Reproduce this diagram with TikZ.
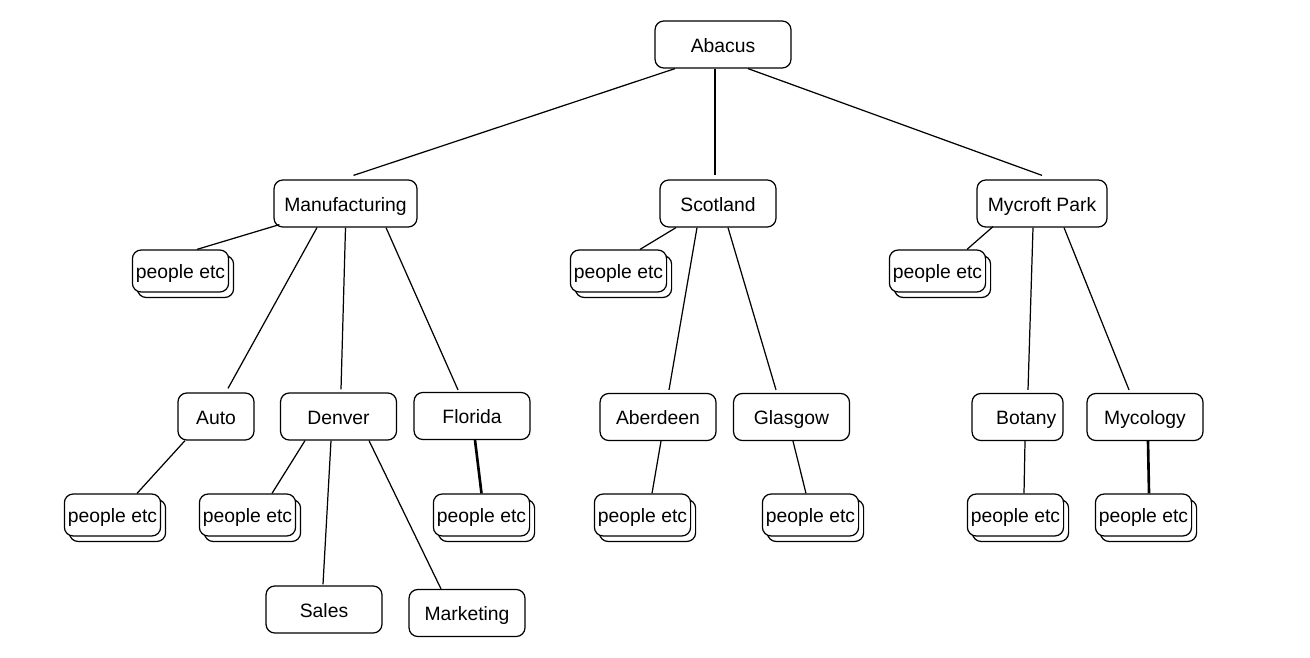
\documentclass[tikz,border=0pt]{standalone}
\usepackage{fontspec}
\setmainfont{Liberation Sans}
\usetikzlibrary{calc,shadows}
\tikzset{
  unit/.style={draw,line width=.7pt,rounded corners=5pt,fill=white,minimum width=2.32cm,minimum height=.94cm,inner xsep=2pt,text height=9pt,text depth=0pt,font=\fontsize{11}{13}\selectfont},
  ppl/.style ={unit,minimum width=1.9cm,minimum height=.84cm,copy shadow={shadow xshift=.1cm,shadow yshift=-.11cm,draw,fill=white}},
  ln/.style  ={line width=.7pt},
  lnb/.style ={line width=1.5pt},
}

\begin{document}
\begin{tikzpicture}[x=.02cm,y=.02cm]
\useasboundingbox (0,0) rectangle (1310,-658);
% top
\node[unit,minimum width=2.72cm] (abacus) at (723,-44.5) {Abacus};
% divisions
\node[unit,minimum width=2.86cm] (manuf) at (345.5,-203.5) {Manufacturing};
\node[unit] (scot) at (718,-203.5) {Scotland};
\node[unit,minimum width=2.6cm] (mycroft) at (1042,-203.5) {Mycroft Park};
\node[ppl] (pmanuf) at (180.5,-271) {people etc};
\node[ppl] (pscot) at (618.5,-271) {people etc};
\node[ppl] (pmycroft) at (937.5,-271) {people etc};
% sites
\node[unit,minimum width=1.52cm] (auto) at (216,-416.5) {Auto};
\node[unit] (denver) at (338.5,-416.5) {Denver};
\node[unit] (florida) at (472,-416) {Florida};
\node[unit] (aber) at (658,-417) {Aberdeen};
\node[unit] (glas) at (791.5,-417) {Glasgow};
\node[unit,minimum width=1.82cm] (botany) at (1017.5,-417) {\hspace*{10pt}Botany};
\node[unit] (mycol) at (1145,-417) {Mycology};
\node[ppl] (pauto) at (112.5,-515) {people etc};
\node[ppl] (pdenver) at (247.5,-515) {people etc};
\node[ppl] (pflorida) at (481.5,-515) {people etc};
\node[ppl] (paber) at (642.5,-515) {people etc};
\node[ppl] (pglas) at (810.5,-515) {people etc};
\node[ppl] (pbotany) at (1015.5,-515) {people etc};
\node[ppl] (pmycol) at (1143.5,-515) {people etc};
% denver teams
\node[unit] (sales) at (324,-609.5) {Sales};
\node[unit] (mkt) at (467,-613) {Marketing};
% links from top
\draw[ln] ($(abacus.south)+(-48,0)$) -- ($(manuf.north)+(8,4)$);
\draw[ln] ($(abacus.south)+(-8,0)$) -- ($(scot.north)+(-3,4)$);
\draw[ln] ($(abacus.south)+(25,0)$) -- ($(mycroft.north)+(0,4)$);
% links from divisions
\draw[ln] ($(manuf.south west)+(6,3)$) -- ($(pmanuf.north)+(16.5,0)$);
\draw[ln] ($(manuf.south)+(-28.5,0)$) -- ($(auto.north)+(12,4)$);
\draw[ln] (manuf.south) -- ($(denver.north)+(2.5,3)$);
\draw[ln] ($(manuf.south)+(40.5,0)$) -- ($(florida.north)+(-14,2)$);
\draw[ln] ($(scot.south)+(-42,0)$) -- ($(pscot.north)+(21.5,0)$);
\draw[ln] ($(scot.south)+(-21,0)$) -- ($(aber.north)+(11,3)$);
\draw[ln] ($(scot.south)+(10,0)$) -- ($(glas.north)+(-15.5,3)$);
\draw[ln] ($(mycroft.south)+(-49,1)$) -- ($(pmycroft.north)+(29.5,0)$);
\draw[ln] ($(mycroft.south)+(-9,0)$) -- ($(botany.north)+(10.5,3)$);
\draw[ln] ($(mycroft.south)+(22,0)$) -- ($(mycol.north)+(-16,3)$);
% links from sites
\draw[ln] ($(auto.south)+(-31,0)$) -- ($(pauto.north)+(24.5,0)$);
\draw[ln] ($(denver.south)+(-33.5,0)$) -- ($(pdenver.north)+(24.5,0)$);
\draw[ln] ($(denver.south)+(-7.5,0)$) -- ($(sales.north)+(-1,1)$);
\draw[ln] ($(denver.south)+(30.5,0)$) -- ($(mkt.north)+(-26,0)$);
\draw[lnb] ($(florida.south)+(3,0)$) -- (pflorida.north);
\draw[ln] ($(aber.south)+(3,0)$) -- ($(paber.north)+(9.5,0)$);
\draw[ln] ($(glas.south)+(1.5,0)$) -- ($(pglas.north)+(-4.5,0)$);
\draw[ln] ($(botany.south)+(7.5,0)$) -- ($(pbotany.north)+(8.5,0)$);
\draw[lnb] ($(mycol.south)+(3,0)$) -- ($(pmycol.north)+(5.5,0)$);
\end{tikzpicture}
\end{document}
